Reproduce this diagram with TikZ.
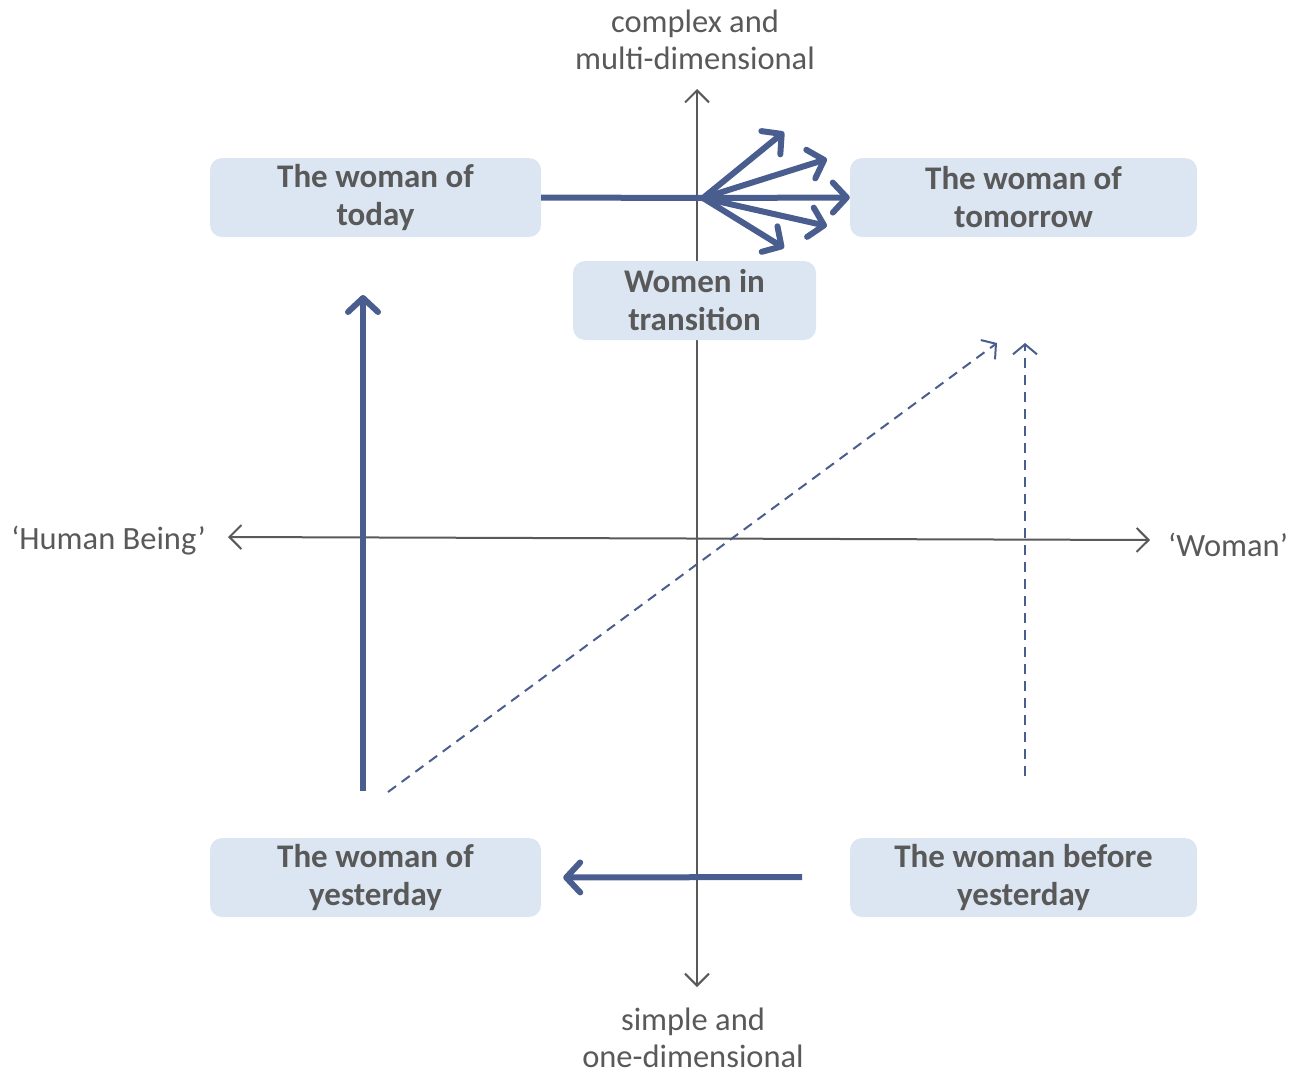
\documentclass[tikz,border=0pt]{standalone}
\usepackage{fontspec}
\setmainfont{Carlito}
\usetikzlibrary{arrows.meta}
\definecolor{axisgray}{HTML}{595959}
\definecolor{textgray}{HTML}{595959}
\definecolor{boxfill}{HTML}{DCE6F2}
\definecolor{flowblue}{HTML}{4A5D8F}
\tikzset{
  stagebox/.style={fill=boxfill, rounded corners=12pt, inner sep=0pt, align=center,
    text=textgray, font=\bfseries\fontsize{33}{38}\selectfont},
  axislabel/.style={text=textgray, align=center, inner sep=0pt, font=\fontsize{32.5}{37}\selectfont},
  axisline/.style={draw=axisgray, line width=2pt,
    arrows={Straight Barb[length=12pt, width=24pt, line width=2pt]-Straight Barb[length=12pt, width=24pt, line width=2pt]}},
  thickflow/.style={draw=flowblue, line width=6pt,
    -{Straight Barb[length=14pt, width=30pt, line cap=round, line join=round]}},
  plainflow/.style={draw=flowblue, line width=6pt},
  dashflow/.style={draw=flowblue, line width=2pt, dash pattern=on 10pt off 7pt,
    -{Straight Barb[length=10pt, width=24pt, line width=2pt]}}
}
\begin{document}
\begin{tikzpicture}[x=1pt, y={(0pt,-1pt)}]
\useasboundingbox (0,0) rectangle (1289,1076);

% axes
\coordinate (top) at (697,89);
\coordinate (bottom) at (697,987);
\coordinate (left) at (228,537);
\coordinate (right) at (1150,540);
\draw[axisline] (bottom) -- (top);
\draw[axisline] (left) -- (right);

% axis labels
\node[axislabel] (complex) at (695,40) {complex and\\multi-dimensional};
\node[axislabel] (simple) at (693,1038) {simple and\\one-dimensional};
\node[axislabel, anchor=east] (human) at (206,541) {‘Human Being’};
\node[axislabel, anchor=west] (woman) at (1168,545) {‘Woman’};

% stage boxes
\node[stagebox, minimum width=331pt, minimum height=79pt] (today) at (375.5,197.5) {The woman of\\today};
\node[stagebox, minimum width=347pt, minimum height=79pt] (tomorrow) at (1023.5,197.5) {The woman of\\tomorrow};
\node[stagebox, minimum width=243pt, minimum height=79pt] (transition) at (694.5,300.5) {Women in\\transition};
\node[stagebox, minimum width=331pt, minimum height=79pt] (yesterday) at (375.5,877.5) {The woman of\\yesterday};
\node[stagebox, minimum width=347pt, minimum height=79pt] (before) at (1023.5,877.5) {The woman before\\yesterday};

% fan of directions out of today
\coordinate (hub) at (703,198);
\coordinate (f1) at (784,132);
\coordinate (f2) at (827,159);
\coordinate (f4) at (827,226);
\coordinate (f5) at (784,248);
\draw[plainflow] (today.east) -- (hub);
\draw[thickflow] (hub) -- (tomorrow.west);
\draw[thickflow] (hub) -- (f1);
\draw[thickflow] (hub) -- (f2);
\draw[thickflow] (hub) -- (f4);
\draw[thickflow] (hub) -- (f5);

% yesterday to today
\coordinate (riseStart) at (363,791);
\coordinate (riseEnd) at (363,295);
\draw[thickflow] (riseStart) -- (riseEnd);

% before yesterday to yesterday
\coordinate (backStart) at (802,877);
\draw[thickflow] (backStart) -- ([xshift=22pt]yesterday.east);

% dashed paths
\coordinate (diagStart) at (388,792);
\coordinate (diagEnd) at (997,343);
\draw[dashflow] (diagStart) -- (diagEnd);
\coordinate (vertStart) at (1025,776);
\coordinate (vertEnd) at (1025,343);
\draw[dashflow] (vertStart) -- (vertEnd);
\end{tikzpicture}
\end{document}
